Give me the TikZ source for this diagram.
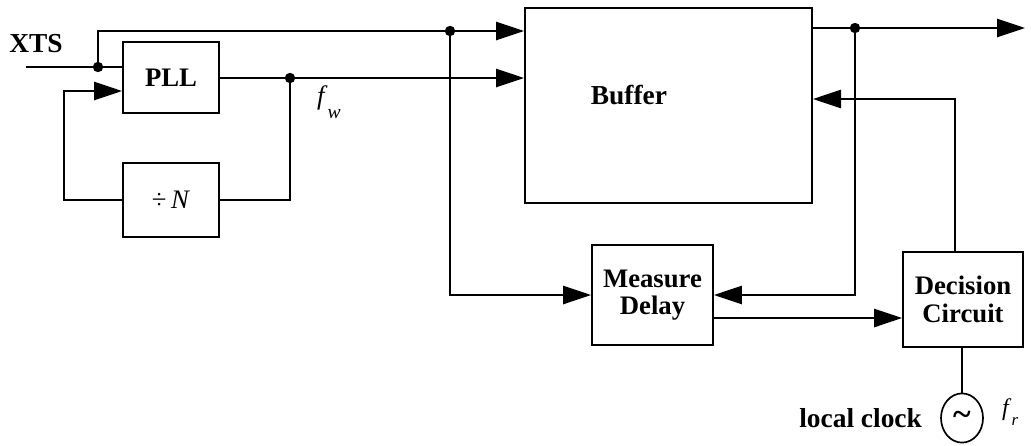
\documentclass[tikz,border=0pt]{standalone}
\usepackage{fontspec}
\setmainfont{Liberation Serif}
\usetikzlibrary{arrows.meta,positioning,shapes.geometric,calc}
\tikzset{
  box/.style={draw,line width=1.4pt,align=center,inner sep=0pt,font=\fontsize{19}{19.5}\selectfont\bfseries},
  lbl/.style={inner sep=0pt,align=center,font=\fontsize{19.5}{19.5}\selectfont\bfseries},
  arr/.style={-{Triangle[length=7mm,width=4.6mm]},line width=1.1pt},
  wire/.style={line width=1.1pt},
  jdot/.style={fill=black},
}

\begin{document}
\begin{tikzpicture}[x=0.25mm,y=-0.25mm]
\useasboundingbox (0,0) rectangle (1031,445);
% blocks
\node[box,minimum width=24mm,minimum height=17.75mm] (pll) at (171,77.5) {PLL};
\node[box,minimum width=24mm,minimum height=18.5mm,font=\fontsize{19}{19}\selectfont] (divn) at (171,200) {÷\,\textit{N}};
\node[box,minimum width=71.75mm,minimum height=48.75mm] (buf) at (668.5,105.5) {};
\node[lbl] at (629,95) {Buffer};
\node[box,minimum width=30.25mm,minimum height=25mm] (meas) at (652.5,295) {Measure\\Delay};
\node[box,minimum width=30mm,minimum height=23.75mm] (dec) at (963,299.5) {Decision\\Circuit};
\node[draw,ellipse,line width=1.2pt,minimum width=10.5mm,minimum height=12.3mm,inner sep=0pt,font=\fontsize{24}{24}\selectfont\bfseries] (clk) at (962,418) {\textasciitilde};
% labels
\node[lbl] (xts) at (36,44) {XTS};
\node[inner sep=0pt,font=\fontsize{19}{19}\selectfont] (fw) at (329,102) {\textit{f}\raisebox{-1.1ex}{\fontsize{14}{14}\selectfont\textit{w}}};
\node[lbl,left=4.5mm of clk] (lc) {local clock};
\node[inner sep=0pt,font=\fontsize{17}{17}\selectfont,right=4.5mm of clk,yshift=1.5mm] (fr) {\textit{f}\raisebox{-0.9ex}{\fontsize{12}{12}\selectfont\textit{r}}};
% junctions
\coordinate (xin) at (26,67);
\coordinate (j1) at (98,67);
\coordinate (j2) at (450,31);
\coordinate (j3) at (290,78);
\coordinate (j4) at (855,28);
\coordinate (fb) at (64,91);
\coordinate (dt) at (955,99);
\coordinate (out) at (1025,28);
% wires
\draw[wire] (xin) -- (pll.west |- xin);
\draw[wire] (j1) |- (j2);
\draw[arr] (j2) -- (buf.west |- j2);
\draw[wire] (pll.east |- j3) -- (j3);
\draw[arr] (j3) -- (buf.west |- j3);
\draw[wire] (j3) |- (divn.east);
\draw[arr] (divn.west) -| (fb) -- (pll.west |- fb);
\draw[arr] (j2) |- (meas.west);
\draw[wire] (buf.east |- j4) -- (j4);
\draw[arr] (j4) -- (out);
\draw[arr] (j4) |- (meas.east);
\draw[arr] (dt |- dec.north) -- (dt) -- (buf.east |- dt);
\draw[arr] (meas.east |- 0,318) -- (dec.west |- 0,318);
\draw[wire] (clk.north) -- (clk.north |- dec.south);
\foreach \j in {j1,j2,j3,j4} \fill[jdot] (\j) circle (1.3mm);
\end{tikzpicture}
\end{document}
